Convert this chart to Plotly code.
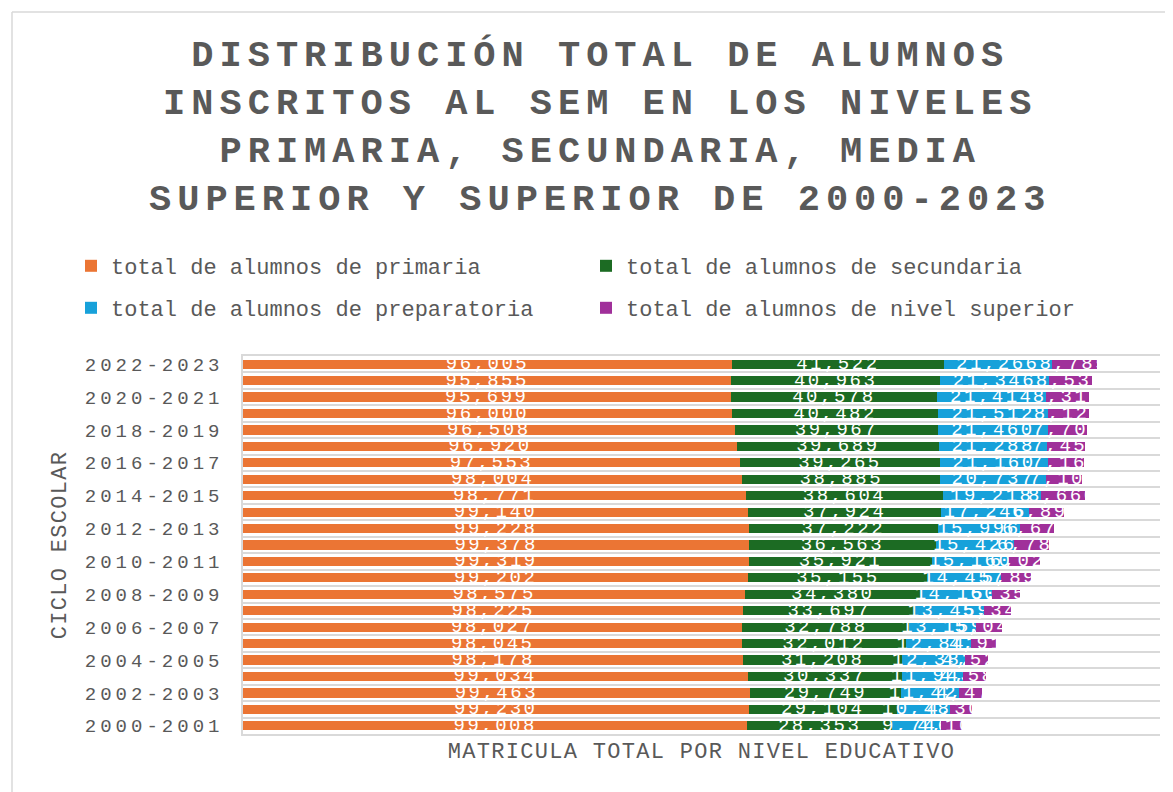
import plotly.graph_objects as go

# ---------------- data ----------------
ciclos = ["2000-2001", "2001-2002", "2002-2003", "2003-2004", "2004-2005", "2005-2006",
          "2006-2007", "2007-2008", "2008-2009", "2009-2010", "2010-2011", "2011-2012",
          "2012-2013", "2013-2014", "2014-2015", "2015-2016", "2016-2017", "2017-2018",
          "2018-2019", "2019-2020", "2020-2021", "2021-2022", "2022-2023"]

primaria = [99008, 99230, 99463, 99034, 98178, 98045, 98027, 98225, 98575, 99202, 99319, 99378,
            99228, 99140, 98771, 98004, 97553, 96920, 96508, 96000, 95699, 95855, 96005]
secundaria = [28353, 29104, 29749, 30337, 31208, 32012, 32788, 33697, 34380, 35155, 35921, 36563,
              37222, 37924, 38604, 38885, 39265, 39689, 39967, 40482, 40578, 40963, 41522]
preparatoria = [9746, 10487, 11427, 11943, 12382, 12841, 13159, 13459, 14160, 14457, 15160, 15426,
                15996, 17246, 19218, 20737, 21160, 21288, 21460, 21512, 21414, 21346, 21266]
superior = [4100, 4300, 4474, 4585, 4527, 4911, 5042, 5340, 5358, 5898, 6028, 6787,
            6679, 6892, 8660, 7105, 7165, 7455, 7705, 8125, 8315, 8535, 8785]

series_names = ["total de alumnos de primaria", "total de alumnos de secundaria",
                "total de alumnos de preparatoria", "total de alumnos de nivel superior"]
series_values = [primaria, secundaria, preparatoria, superior]
series_colors = ["#EB7534", "#1C6B23", "#17A1DA", "#A0309A"]
series_legend = ["legend", "legend", "legend2", "legend2"]
series_entry_w = [470, 520, 470, 520]

title_lines = ["DISTRIBUCIÓN TOTAL DE ALUMNOS", "INSCRITOS AL SEM EN LOS NIVELES",
               "PRIMARIA, SECUNDARIA, MEDIA", "SUPERIOR Y SUPERIOR DE 2000-2023"]
x_title = "MATRICULA TOTAL POR NIVEL EDUCATIVO"
y_title = "CICLO ESCOLAR"

# ---------------- style / layout ----------------
FONT = "Liberation Mono, Courier New, monospace"
GREY = "#595959"
LINE = "#d9d9d9"
OFF = 8                      # page body margin of the html page
W, H = 1173 - OFF, 792 - OFF
L, T = 243 - OFF, 356 - OFF  # plot area left / top (page px)
R = W - (1160 - OFF)
B = H - (734 - OFF)


def sp(text, spacing):
    return f'<span style="letter-spacing:{spacing}px">{text}</span>'


def px_x(px):
    """page pixel x -> paper coordinate"""
    return (px - OFF - L) / (W - L - R)


def px_y(py):
    """page pixel y -> paper coordinate"""
    return (H - B - (py - OFF)) / (H - T - B)


fig = go.Figure()
for name, vals, col, lg, ew in zip(series_names, series_values, series_colors,
                                   series_legend, series_entry_w):
    fig.add_trace(go.Bar(
        y=ciclos, x=vals, name=name, orientation="h",
        marker=dict(color=col, line=dict(width=0)),
        texttemplate=sp("%{x:,.0f}", 2.5), textposition="inside",
        insidetextanchor="middle", constraintext="none", textangle=0,
        textfont=dict(family=FONT, size=19, color="white"),
        legend=lg, legendwidth=ew, hoverinfo="skip",
    ))

ticktext = [sp(c, 4) if i % 2 == 0 else "" for i, c in enumerate(ciclos)]

legend_common = dict(orientation="h", xanchor="left", yanchor="middle",
                     entrywidthmode="pixels", bgcolor="rgba(0,0,0,0)",
                     font=dict(family=FONT, size=22, color=GREY), traceorder="normal")

fig.update_layout(
    width=W, height=H,
    margin=dict(l=L, r=R, t=T, b=B, autoexpand=False),
    paper_bgcolor="white", plot_bgcolor="white",
    barmode="stack", bargap=0.44,
    font=dict(family=FONT, color=GREY),
    legend=dict(x=px_x(71), y=px_y(266), **legend_common),
    legend2=dict(x=px_x(71), y=px_y(308), **legend_common),
    xaxis=dict(range=[0, 180000], showticklabels=False, showgrid=False, zeroline=False,
               showline=True, mirror=True, linecolor=LINE, linewidth=1.5, ticks="",
               automargin=False,
               title=dict(text=sp(x_title, 1.3), standoff=8,
                          font=dict(family=FONT, size=22, color=GREY))),
    yaxis=dict(type="category", categoryorder="array", categoryarray=ciclos,
               tickmode="array", tickvals=ciclos, ticktext=ticktext, tickson="boundaries",
               showgrid=True, gridcolor=LINE, gridwidth=1.5,
               showline=True, linecolor=LINE, linewidth=1.5, ticks="",
               ticklabelstandoff=14, automargin=False,
               tickfont=dict(family=FONT, size=19, color=GREY),
               title=dict(text=sp(y_title, 1.3), standoff=12,
                          font=dict(family=FONT, size=22, color=GREY))),
    annotations=[dict(
        text="<br>".join(sp(t, 6) for t in title_lines),
        xref="paper", yref="paper", x=px_x(600), y=px_y(128),
        xanchor="center", yanchor="middle", showarrow=False, align="center",
        font=dict(family=FONT, size=37, color=GREY, weight="bold"),
    )],
    shapes=[
        dict(type="line", xref="paper", yref="paper", x0=px_x(12), x1=px_x(1180),
             y0=px_y(12), y1=px_y(12), line=dict(color=LINE, width=1.5)),
        dict(type="line", xref="paper", yref="paper", x0=px_x(12), x1=px_x(12),
             y0=px_y(12), y1=px_y(800), line=dict(color=LINE, width=1.5)),
    ],
)

fig.write_html("out.html")
